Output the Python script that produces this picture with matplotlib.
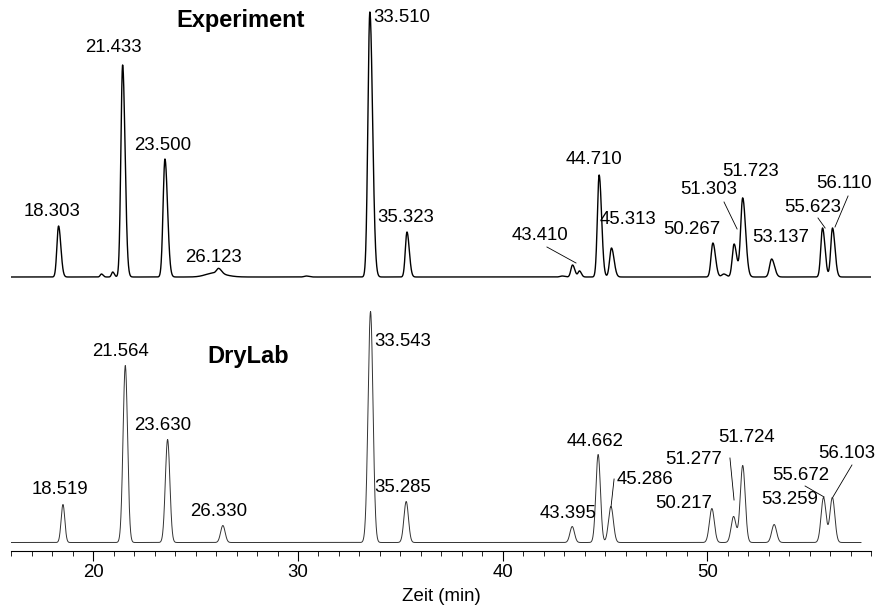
import matplotlib
matplotlib.use("Agg")
import matplotlib.pyplot as plt
import numpy as np

plt.rcParams['font.family'] = ['Liberation Sans', 'DejaVu Sans']

# Experiment: retention times (min), peak heights, widths
exp_times = [18.303, 21.433, 23.500, 26.123, 33.510, 35.323, 43.410, 44.710,
             45.313, 50.267, 51.303, 51.723, 53.137, 55.623, 56.110]
exp_heights = [51, 212, 118, 5, 265, 45, 12, 102, 29, 34, 33, 79, 18, 49, 49]
exp_sigmas = [0.08, 0.085, 0.09, 0.10, 0.095, 0.08, 0.08, 0.085,
              0.09, 0.09, 0.09, 0.10, 0.10, 0.085, 0.085]
# small unlabelled peaks / humps in the experiment trace
exp_minor_times = [20.40, 20.95, 25.90, 30.40, 42.90, 43.75, 50.80]
exp_minor_heights = [3, 5, 4, 1, 1, 6, 3]
exp_minor_sigmas = [0.06, 0.06, 0.40, 0.10, 0.10, 0.07, 0.10]

# DryLab simulation
dry_times = [18.519, 21.564, 23.630, 26.330, 33.543, 35.285, 43.395, 44.662,
             45.286, 50.217, 51.277, 51.724, 53.259, 55.672, 56.103]
dry_heights = [38, 177, 103, 17, 231, 41, 16, 88, 36, 34, 26, 77, 18, 45, 45]
dry_sigmas = [0.09, 0.11, 0.11, 0.11, 0.12, 0.11, 0.11, 0.11,
              0.12, 0.12, 0.12, 0.12, 0.12, 0.12, 0.12]

# label positions (data coords) and leader lines
exp_label_x = [17.98, 20.96, 23.40, 25.85, 35.08, 35.28, 41.82, 44.46,
               46.12, 49.25, 50.08, 52.13, 53.59, 55.16, 56.67]
exp_label_y = [338.7, 503.7, 405.7, 293.7, 533.7, 332.7, 314.7, 391.7,
               330.7, 320.7, 360.7, 378.7, 313.7, 343.7, 367.7]
exp_leaders = [((42.16, 303.7), (43.58, 287.7)),
               ((50.81, 348.7), (51.45, 321.7)),
               ((55.40, 332.7), (55.75, 322.7)),
               ((56.87, 354.7), (56.23, 323.7))]

dry_label_x = [18.37, 21.35, 23.40, 26.14, 35.13, 35.13, 43.19, 44.51,
               46.95, 48.86, 49.30, 51.89, 54.03, 54.56, 56.81]
dry_label_y = [60.7, 198.7, 125.7, 38.7, 209.7, 63.7, 37.7, 109.7,
               70.7, 47.7, 91.7, 112.7, 50.7, 75.7, 97.7]
dry_leaders = [((45.44, 71.7), (45.29, 43.7)),
               ((51.10, 92.7), (51.30, 50.7)),
               ((54.77, 64.7), (55.70, 53.7)),
               ((57.06, 85.7), (56.13, 53.7))]

exp_base = 273.7
dry_base = 8.2


def peak(t, t0, h, s, tail):
    sig = np.where(t < t0, s, s * tail)
    return h * np.exp(-0.5 * ((t - t0) / sig) ** 2)


def trace(t, times, heights, sigmas, tail):
    y = np.zeros_like(t)
    for t0, h, s in zip(times, heights, sigmas):
        y += peak(t, t0, h, s, tail)
    return y


t_exp = np.linspace(16, 58, 6000)
y_exp = trace(t_exp, exp_times, exp_heights, exp_sigmas, 1.4)
y_exp += trace(t_exp, exp_minor_times, exp_minor_heights, exp_minor_sigmas, 1.3)

t_dry = np.linspace(16, 57.5, 6000)
y_dry = trace(t_dry, dry_times, dry_heights, dry_sigmas, 1.0)

fig = plt.figure(figsize=(8.78, 6.05), dpi=100)
ax = fig.add_axes([11.4 / 878, 54.3 / 605, 859.8 / 878, 550.7 / 605])

ax.plot(t_exp, y_exp + exp_base, color='black', lw=1.0)
ax.plot(t_dry, y_dry + dry_base, color='#333333', lw=0.7)

fs = 13.4
for lbl, x, y in zip(exp_times, exp_label_x, exp_label_y):
    ax.text(x, y, f"{lbl:.3f}", ha='center', va='center', fontsize=fs)
for lbl, x, y in zip(dry_times, dry_label_x, dry_label_y):
    ax.text(x, y, f"{lbl:.3f}", ha='center', va='center', fontsize=fs)
for (a, b) in exp_leaders + dry_leaders:
    ax.plot([a[0], b[0]], [a[1], b[1]], color='black', lw=0.6)

ax.text(27.22, 530.7, "Experiment", ha='center', va='center',
        fontsize=17, fontweight='bold')
ax.text(27.56, 193.7, "DryLab", ha='center', va='center',
        fontsize=17, fontweight='bold')

ax.set_xlim(16, 58)
ax.set_ylim(0, 550.7)
for s in ['top', 'left', 'right']:
    ax.spines[s].set_visible(False)
ax.spines['bottom'].set_linewidth(0.8)
ax.set_yticks([])
ax.set_xticks([20, 30, 40, 50])
ax.set_xticks(np.arange(16, 59, 1), minor=True)
ax.tick_params(axis='x', which='major', length=7.2, width=0.8, pad=2.5,
               labelsize=13.4)
ax.tick_params(axis='x', which='minor', length=3.3, width=0.6)
ax.set_xlabel("Zeit (min)", fontsize=13.4, labelpad=5)
ax.patch.set_visible(False)

fig.savefig("out.png", dpi=100)
